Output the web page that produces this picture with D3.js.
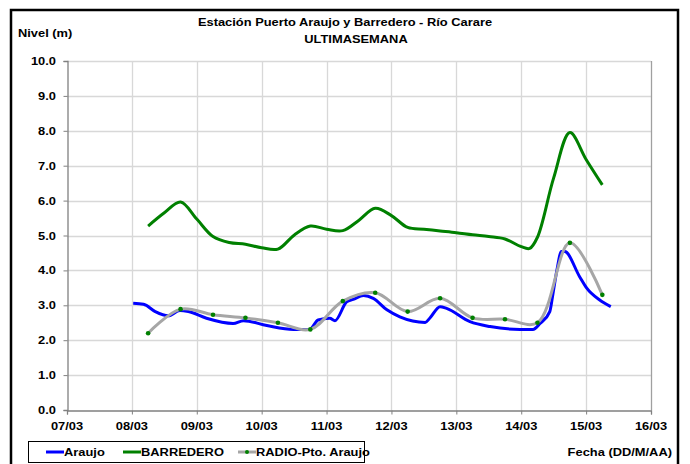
<!DOCTYPE html>
<html>
<head>
<meta charset="utf-8">
<script src="https://cdn.jsdelivr.net/npm/d3@7.9.0/dist/d3.min.js"></script>
<style>
  body { margin: 0; background: #fff; }
  text { font-family: "Liberation Sans", Arial, sans-serif; font-weight: bold; fill: #000; }
</style>
</head>
<body>
<svg id="chart" width="690" height="464"></svg>
<script>
// --- datos (dia de marzo, nivel en m) ---
const araujoDia = [8.02, 8.18, 8.36, 8.56, 8.74, 8.87, 9.15, 9.56, 9.72, 10.08, 10.49, 10.74, 10.87, 11.05, 11.13,
  11.31, 11.41, 11.57, 11.72, 11.93, 12.13, 12.52, 12.59, 12.75, 12.85, 13.21, 13.52, 13.98, 14.18, 14.29,
  14.44, 14.49, 14.55, 14.62, 14.67, 14.90, 15.01, 15.21, 15.38];
const araujoNivel = [3.06, 3.03, 2.82, 2.70, 2.85, 2.82, 2.63, 2.48, 2.56, 2.42, 2.31, 2.31, 2.58, 2.63, 2.56,
  3.10, 3.17, 3.28, 3.20, 2.87, 2.67, 2.51, 2.63, 2.96, 2.91, 2.53, 2.39, 2.31, 2.31, 2.48,
  2.82, 3.34, 4.01, 4.54, 4.54, 3.82, 3.49, 3.15, 2.96];

const barrederoDia = [8.25, 8.5, 8.75, 9.0, 9.25, 9.5, 9.75, 10.0, 10.25, 10.5, 10.75, 11.0, 11.25, 11.5, 11.75,
  12.0, 12.25, 12.5, 12.75, 13.0, 13.25, 13.5, 13.75, 14.0, 14.13, 14.25, 14.5, 14.75, 15.0, 15.25];
const barrederoNivel = [5.27, 5.65, 5.96, 5.47, 4.97, 4.80, 4.75, 4.65, 4.61, 5.01, 5.27, 5.18, 5.14, 5.44, 5.78,
  5.57, 5.23, 5.18, 5.13, 5.08, 5.02, 4.97, 4.90, 4.68, 4.63, 4.95, 6.65, 7.95, 7.18, 6.45];

const radioDia = [8.25, 8.75, 9.25, 9.75, 10.25, 10.75, 11.25, 11.75, 12.25, 12.75, 13.25, 13.75, 14.25, 14.75, 15.25];
const radioNivel = [2.20, 2.89, 2.73, 2.64, 2.50, 2.31, 3.12, 3.36, 2.82, 3.20, 2.64, 2.60, 2.50, 4.79, 3.30];

const diasEje = [7, 8, 9, 10, 11, 12, 13, 14, 15, 16];
const nivelesEje = [0, 1, 2, 3, 4, 5, 6, 7, 8, 9, 10];

const svg = d3.select('#chart');
const SX = 1.17; // el grafico original esta estirado en horizontal

// helper: texto estirado
function label(px, py, str, anchor, size) {
  return svg.append('text')
    .attr('transform', `translate(${px},${py}) scale(${SX},1)`)
    .attr('text-anchor', anchor || 'start')
    .attr('font-size', size || 11)
    .text(str);
}

svg.append('rect').attr('width', 690).attr('height', 464).attr('fill', '#fff');
// marco exterior
svg.append('rect')
  .attr('x', 11).attr('y', 10).attr('width', 667).attr('height', 470)
  .attr('fill', 'none').attr('stroke', '#000').attr('stroke-width', 2.5);

const pLeft = 67, pRight = 651, pTop = 61, pBottom = 410;
const x = d3.scaleLinear().domain([7, 16]).range([pLeft, pRight]);
const y = d3.scaleLinear().domain([0, 10]).range([pBottom, pTop]);

// grilla
svg.append('g').selectAll('line').data(nivelesEje.slice(1)).join('line')
  .attr('x1', pLeft).attr('x2', pRight)
  .attr('y1', d => Math.round(y(d)) + 0.5).attr('y2', d => Math.round(y(d)) + 0.5)
  .attr('stroke', '#d8d8d8').attr('stroke-width', 1.3);
svg.append('g').selectAll('line').data(diasEje.slice(1)).join('line')
  .attr('y1', pTop).attr('y2', pBottom)
  .attr('x1', d => Math.round(x(d)) + 0.5).attr('x2', d => Math.round(x(d)) + 0.5)
  .attr('stroke', d => d === 16 ? '#a0a0a0' : '#d8d8d8').attr('stroke-width', 1.3);

// ejes
const fmtFecha = d => String(d).padStart(2, '0') + '/03';
const xAxis = svg.append('g').attr('transform', `translate(0,${pBottom + 0.5})`)
  .call(d3.axisBottom(x).tickValues(diasEje).tickSize(4).tickFormat(''));
const yAxis = svg.append('g').attr('transform', `translate(${pLeft + 0.5},0)`)
  .call(d3.axisLeft(y).tickValues(nivelesEje).tickSize(4).tickFormat(''));
[xAxis, yAxis].forEach(g => {
  g.select('.domain').attr('stroke', '#808080').attr('stroke-width', 1.3);
  g.selectAll('.tick line').attr('stroke', '#808080');
});

nivelesEje.forEach(v => label(56, y(v) + 4, d3.format('.1f')(v), 'end'));
diasEje.forEach(d => label(x(d), 430, fmtFecha(d), 'middle'));

// titulos
label(345, 26, 'Estación Puerto Araujo y Barredero - Río Carare', 'middle');
label(356, 43, 'ULTIMASEMANA', 'middle');
label(18, 37, 'Nivel (m)', 'start');
label(672, 456, 'Fecha (DD/M/AA)', 'end');

// series
const serie = (dias, niveles) => dias.map((d, i) => [d, niveles[i]]);
const linea = curve => d3.line().x(d => x(d[0])).y(d => y(d[1])).curve(curve);

svg.append('path').datum(serie(araujoDia, araujoNivel))
  .attr('d', linea(d3.curveMonotoneX))
  .attr('fill', 'none').attr('stroke', '#0000ff').attr('stroke-width', 3).attr('stroke-linejoin', 'round');
svg.append('path').datum(serie(barrederoDia, barrederoNivel))
  .attr('d', linea(d3.curveCatmullRom))
  .attr('fill', 'none').attr('stroke', '#008000').attr('stroke-width', 3);
const radio = serie(radioDia, radioNivel);
svg.append('path').datum(radio)
  .attr('d', linea(d3.curveCatmullRom))
  .attr('fill', 'none').attr('stroke', '#a6a6a6').attr('stroke-width', 3);
svg.append('g').selectAll('circle').data(radio).join('circle')
  .attr('cx', d => x(d[0])).attr('cy', d => y(d[1])).attr('r', 2.3).attr('fill', '#008000');

// leyenda
svg.append('rect').attr('x', 28.5).attr('y', 441.5).attr('width', 336).attr('height', 21)
  .attr('fill', '#fff').attr('stroke', '#000').attr('stroke-width', 1);
const items = [
  { nombre: 'Araujo', color: '#0000ff', x0: 46 },
  { nombre: 'BARREDERO', color: '#008000', x0: 123 },
  { nombre: 'RADIO-Pto. Araujo', color: '#a6a6a6', x0: 238, punto: true }
];
items.forEach(it => {
  svg.append('line').attr('x1', it.x0).attr('x2', it.x0 + 18).attr('y1', 452).attr('y2', 452)
    .attr('stroke', it.color).attr('stroke-width', 3);
  if (it.punto) svg.append('circle').attr('cx', it.x0 + 9).attr('cy', 452).attr('r', 2).attr('fill', '#008000');
  label(it.x0 + 18, 456, it.nombre, 'start');
});
</script>
</body>
</html>
